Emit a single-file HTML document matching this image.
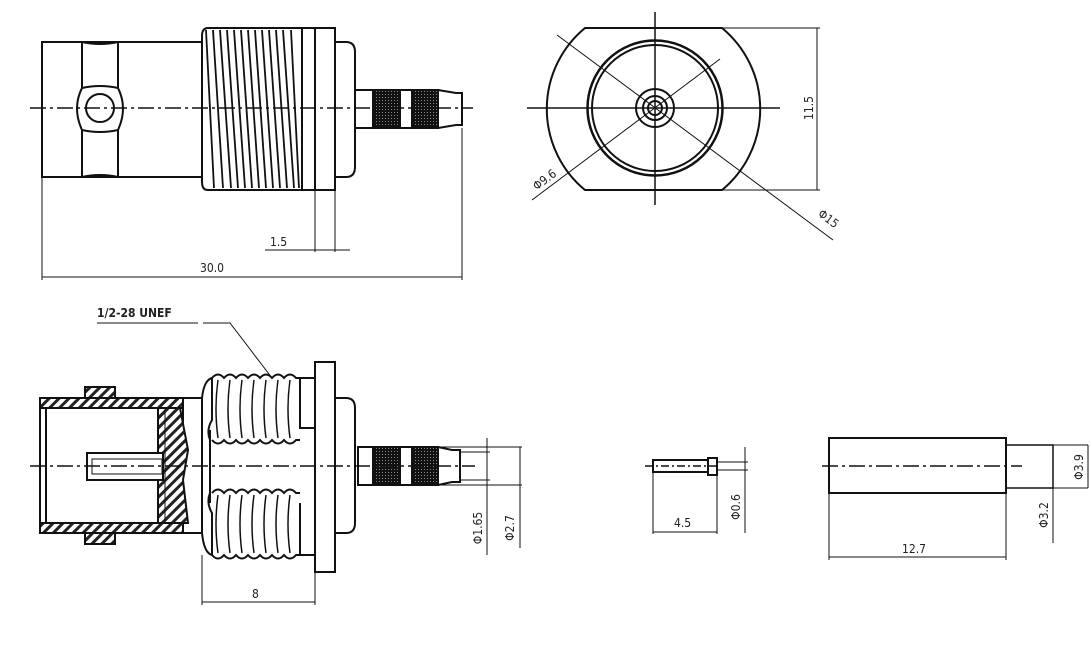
<!DOCTYPE html>
<html><head><meta charset="utf-8"><style>
html,body{margin:0;padding:0;background:#fff;}
svg{display:block;}
text{font-family:"DejaVu Sans Condensed","Liberation Sans Narrow","Liberation Sans",sans-serif;fill:#222;font-size:12px;}
</style></head><body>
<svg width="1090" height="660" viewBox="0 0 1090 660" xmlns="http://www.w3.org/2000/svg">
<defs>
<pattern id="h" width="7" height="7" patternUnits="userSpaceOnUse" patternTransform="rotate(45)">
<rect width="7" height="7" fill="#fff"/><rect width="3" height="7" fill="#222"/></pattern>
<pattern id="k" width="3" height="3" patternUnits="userSpaceOnUse">
<rect width="3" height="3" fill="#111"/><rect x="1" y="1" width="1" height="1" fill="#888"/></pattern>
</defs>
<g fill="none" stroke="#111" stroke-width="2">
<!-- TOP VIEW -->
<rect x="42" y="42" width="160" height="135" fill="#fff"/>
<line x1="82" y1="42" x2="82" y2="177"/><line x1="118" y1="42" x2="118" y2="177"/>
<path d="M82 42 Q100 46 118 42 M82 177 Q100 173 118 177"/>
<path d="M82 88 Q100 84 118 88 Q128 108 118 130 Q100 134 82 130 Q72 108 82 88 Z" fill="#fff"/>
<circle cx="100" cy="108" r="14"/>
<path d="M208 28 H302 V190 H208 Q202 190 202 182 V36 Q202 28 208 28 Z" fill="#fff"/>
<g stroke-width="1.8">
<line x1="206" y1="30" x2="214" y2="188"/><line x1="213" y1="30" x2="223" y2="188"/>
<line x1="220" y1="30" x2="231" y2="188"/><line x1="227" y1="30" x2="238" y2="188"/>
<line x1="234" y1="30" x2="245" y2="188"/><line x1="241" y1="30" x2="252" y2="188"/>
<line x1="248" y1="30" x2="259" y2="188"/><line x1="255" y1="30" x2="266" y2="188"/>
<line x1="262" y1="30" x2="273" y2="188"/><line x1="269" y1="30" x2="280" y2="188"/>
<line x1="276" y1="30" x2="287" y2="188"/><line x1="283" y1="30" x2="294" y2="188"/>
<line x1="291" y1="30" x2="299" y2="188"/>
</g>
<rect x="302" y="28" width="33" height="162" fill="#fff"/>
<line x1="315" y1="28" x2="315" y2="190"/>
<path d="M335 42 H346 Q355 42 355 52 V167 Q355 177 346 177 H335"/>
<rect x="355" y="90" width="83" height="38" fill="#fff"/>
<rect x="373" y="90" width="27" height="38" fill="url(#k)"/>
<rect x="412" y="90" width="26" height="38" fill="url(#k)"/>
<path d="M438 90 L456 93 H462 V125 H456 L438 128"/>
<line x1="30" y1="108" x2="473" y2="108" stroke-width="1.5" stroke-dasharray="16 4 3 4"/>
<g stroke-width="1">
<line x1="315" y1="190" x2="315" y2="252"/><line x1="335" y1="190" x2="335" y2="252"/>
<line x1="265" y1="250" x2="350" y2="250"/>
<line x1="42" y1="177" x2="42" y2="280"/><line x1="462" y1="128" x2="462" y2="280"/>
<line x1="42" y1="277" x2="462" y2="277"/>
</g>
<!-- FRONT VIEW -->
<path d="M585 28 H722 A105 105 0 0 1 722 190 H585 A105 105 0 0 1 585 28 Z" fill="#fff"/>
<circle cx="655" cy="108" r="67.5" stroke-width="2.5"/>
<circle cx="655" cy="108" r="63"/>
<circle cx="655" cy="108" r="19"/><circle cx="655" cy="108" r="12"/><circle cx="655" cy="108" r="7"/>
<line x1="655" y1="12" x2="655" y2="205" stroke-width="1.5"/>
<line x1="527" y1="108" x2="780" y2="108" stroke-width="1.5"/>
<g stroke-width="1">
<line x1="557" y1="35" x2="833" y2="240"/>
<line x1="532" y1="200" x2="720" y2="59"/>
<line x1="722" y1="28" x2="820" y2="28"/><line x1="722" y1="190" x2="820" y2="190"/>
<line x1="817" y1="28" x2="817" y2="190"/>
</g>
<!-- SECTION VIEW -->
<g stroke-width="1">
<line x1="97" y1="323" x2="198" y2="323"/>
<polyline points="203,323 230,323 272,378"/>
</g>
<rect x="85" y="387" width="30" height="11" fill="url(#h)"/>
<rect x="85" y="533" width="30" height="11" fill="url(#h)"/>
<rect x="40" y="398" width="143" height="10" fill="url(#h)"/>
<rect x="40" y="523" width="143" height="10" fill="url(#h)"/>
<rect x="40" y="398" width="143" height="135"/>
<line x1="46" y1="408" x2="46" y2="523"/>
<path d="M158 408 H180 L188 450 L183 480 L188 523 H158 Z" fill="url(#h)"/>
<line x1="165" y1="408" x2="165" y2="523" stroke-width="1"/>
<rect x="87" y="453" width="76" height="27" fill="#fff"/>
<rect x="92" y="459" width="70" height="15" stroke-width="1"/>
<path d="M183 398 H202 M183 533 H202" />
<path d="M202 398 Q204 380 212 378 M202 533 Q204 553 212 555"/>
<path d="M202 398 V533 M210 430 V503"/>
<path d="M210 440 Q206 430 212 420 V378 M210 493 Q206 503 212 513 V555"/>
<g stroke-width="2">
<path d="M212 378 Q218 371 224 378 Q230 371 236 378 Q242 371 248 378 Q254 371 260 378 Q266 371 272 378 Q278 371 284 378 Q290 371 296 378 L300 378"/>
<path d="M212 440 Q218 447 224 440 Q230 447 236 440 Q242 447 248 440 Q254 447 260 440 Q266 447 272 440 Q278 447 284 440 Q290 447 296 440 L300 440"/>
<path d="M212 493 Q218 486 224 493 Q230 486 236 493 Q242 486 248 493 Q254 486 260 493 Q266 486 272 493 Q278 486 284 493 Q290 486 296 493 L300 493"/>
<path d="M212 555 Q218 562 224 555 Q230 562 236 555 Q242 562 248 555 Q254 562 260 555 Q266 562 272 555 Q278 562 284 555 Q290 562 296 555 L300 555"/>
</g>
<g stroke-width="1.5">
<path d="M218 380 Q214 409 218 438 M230 380 Q226 409 230 438 M242 380 Q238 409 242 438 M254 380 Q250 409 254 438 M266 380 Q262 409 266 438 M278 380 Q274 409 278 438 M290 380 Q286 409 290 438"/>
<path d="M218 495 Q214 524 218 553 M230 495 Q226 524 230 553 M242 495 Q238 524 242 553 M254 495 Q250 524 254 553 M266 495 Q262 524 266 553 M278 495 Q274 524 278 553 M290 495 Q286 524 290 553"/>
</g>
<path d="M300 378 H315 M300 378 V428 H315 M300 503 V555 H315 M300 555"/>
<rect x="315" y="362" width="20" height="210" fill="#fff"/>
<path d="M335 398 H346 Q355 398 355 408 V523 Q355 533 346 533 H335"/>
<rect x="358" y="447" width="80" height="38" fill="#fff"/>
<rect x="373" y="447" width="27" height="38" fill="url(#k)"/>
<rect x="412" y="447" width="26" height="38" fill="url(#k)"/>
<path d="M438 447 L452 450 H460 V482 H452 L438 485"/>
<line x1="30" y1="466" x2="475" y2="466" stroke-width="1.5" stroke-dasharray="16 4 3 4"/>
<g stroke-width="1">
<line x1="460" y1="452" x2="490" y2="452"/><line x1="460" y1="480" x2="490" y2="480"/>
<line x1="435" y1="447" x2="522" y2="447"/><line x1="435" y1="485" x2="522" y2="485"/>
<line x1="487" y1="438" x2="487" y2="555"/><line x1="520" y1="447" x2="520" y2="548"/>
<line x1="202" y1="555" x2="202" y2="605"/><line x1="315" y1="572" x2="315" y2="605"/>
<line x1="202" y1="602" x2="315" y2="602"/>
</g>
<!-- SMALL PIN -->
<rect x="653" y="460" width="55" height="12" fill="#fff"/>
<rect x="708" y="458" width="9" height="17" fill="#fff"/>
<line x1="645" y1="466" x2="717" y2="466" stroke-width="1.5" stroke-dasharray="8 3 2 3"/>
<g stroke-width="1">
<line x1="653" y1="472" x2="653" y2="534"/><line x1="717" y1="475" x2="717" y2="534"/>
<line x1="653" y1="532" x2="717" y2="532"/>
<line x1="717" y1="462" x2="748" y2="462"/><line x1="717" y1="470" x2="748" y2="470"/>
<line x1="745" y1="447" x2="745" y2="533"/>
</g>
<!-- SLEEVE -->
<rect x="829" y="438" width="177" height="55" fill="#fff"/>
<path d="M1006 445 H1053 V488 H1006" stroke-width="1.5"/>
<line x1="822" y1="466" x2="1022" y2="466" stroke-width="1.5" stroke-dasharray="16 4 3 4"/>
<g stroke-width="1">
<line x1="829" y1="493" x2="829" y2="560"/><line x1="1006" y1="493" x2="1006" y2="560"/>
<line x1="829" y1="557" x2="1006" y2="557"/>
<line x1="1053" y1="488" x2="1053" y2="543"/>
<line x1="1053" y1="445" x2="1088" y2="445"/><line x1="1053" y1="488" x2="1088" y2="488"/>
<line x1="1088" y1="445" x2="1088" y2="488"/>
</g>
</g>
<!-- TEXT -->
<text x="270" y="246">1.5</text>
<text x="200" y="272">30.0</text>
<text x="97" y="317" font-size="11" font-weight="bold">1/2-28 UNEF</text>
<text x="252" y="598">8</text>
<text transform="translate(813,108) rotate(-90)" text-anchor="middle">11.5</text>
<text transform="translate(547,183) rotate(-37)" text-anchor="middle">Φ9.6</text>
<text transform="translate(826,222) rotate(37)" text-anchor="middle">Φ15</text>
<text transform="translate(482,528) rotate(-90)" text-anchor="middle">Φ1.65</text>
<text transform="translate(514,528) rotate(-90)" text-anchor="middle">Φ2.7</text>
<text x="674" y="527">4.5</text>
<text transform="translate(740,507) rotate(-90)" text-anchor="middle">Φ0.6</text>
<text x="902" y="553">12.7</text>
<text transform="translate(1048,515) rotate(-90)" text-anchor="middle">Φ3.2</text>
<text transform="translate(1083,467) rotate(-90)" text-anchor="middle">Φ3.9</text>
</svg>
</body></html>
